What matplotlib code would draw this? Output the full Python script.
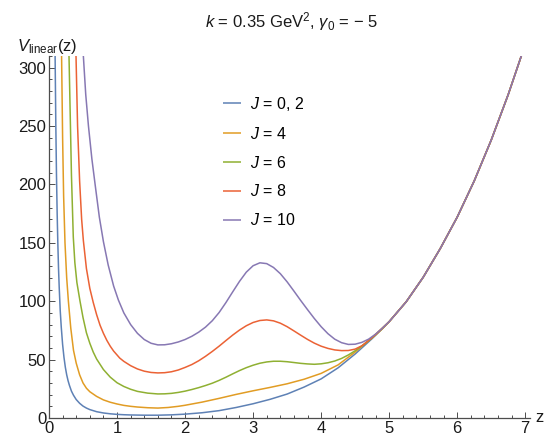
import matplotlib
matplotlib.use("Agg")
import matplotlib.pyplot as plt
from matplotlib.ticker import MultipleLocator

plt.rcParams['font.family'] = ['Liberation Sans', 'DejaVu Sans']
plt.rcParams['mathtext.fontset'] = 'custom'
plt.rcParams['mathtext.rm'] = 'Liberation Sans'
plt.rcParams['mathtext.it'] = 'Liberation Sans:italic'

labels = ["$J$ = 0, 2", "$J$ = 4", "$J$ = 6", "$J$ = 8", "$J$ = 10"]
colors = ["#5E81B5", "#E19C24", "#8FB032", "#EB6235", "#8778B3"]

# common right branch (all curves merge here)
z_tail = [5.25, 5.5, 5.75, 6.0, 6.25, 6.5, 6.75, 7.0]
v_tail = [99.5, 120.5, 145, 172, 203, 238, 277, 320]

z_j0 = [0.085, 0.09, 0.10, 0.11, 0.12, 0.13, 0.14, 0.15, 0.165, 0.18, 0.20, 0.22,
        0.24, 0.26, 0.28, 0.30, 0.33, 0.36, 0.40, 0.45, 0.50, 0.55, 0.60, 0.70,
        0.80, 0.90, 1.0, 1.1, 1.2, 1.4, 1.6, 1.8, 2.0, 2.25, 2.5, 2.75,
        3.0, 3.25, 3.5, 3.75, 4.0, 4.25, 4.5, 4.75, 5.0]
v_j0 = [345, 309, 252, 208, 175, 149, 128, 112, 92, 78, 63, 52,
        43.5, 37, 32, 28, 23, 19.5, 15.8, 12.6, 10.2, 8.5, 7.2, 5.4,
        4.3, 3.6, 3.1, 2.8, 2.6, 2.4, 2.4, 2.7, 3.3, 4.5, 6.3, 9.0,
        12.2, 16, 20.5, 26.5, 33.5, 43, 54.8, 68, 82.5]

z_j4 = [0.175, 0.185, 0.20, 0.215, 0.235, 0.26, 0.285, 0.32, 0.36, 0.40, 0.45, 0.50,
        0.55, 0.60, 0.70, 0.80, 0.90, 1.0, 1.1, 1.2, 1.3, 1.45, 1.6, 1.75,
        1.9, 2.0, 2.25, 2.5, 2.75, 3.0, 3.25, 3.5, 3.75, 4.0, 4.25, 4.5,
        4.75, 5.0]
v_j4 = [350, 310, 240, 190, 150, 120, 100, 77, 58, 47, 37, 30,
        25.5, 22.5, 18.5, 15.5, 13.5, 12, 10.8, 10, 9.4, 8.8, 8.5, 9.0,
        10.0, 10.9, 13.6, 16.8, 20.2, 23.3, 26.2, 29.3, 33.2, 38.2, 45.5, 56.5,
        69, 82.5]

z_j6 = [0.28, 0.294, 0.31, 0.33, 0.357, 0.38, 0.41, 0.456, 0.50, 0.55, 0.60, 0.65,
        0.70, 0.80, 0.90, 1.0, 1.1, 1.2, 1.3, 1.45, 1.6, 1.7, 1.8, 1.9,
        2.0, 2.1, 2.2, 2.3, 2.4, 2.5, 2.6, 2.7, 2.8, 2.9, 3.0, 3.1,
        3.2, 3.3, 3.4, 3.5, 3.6, 3.7, 3.8, 3.9, 4.0, 4.1, 4.2, 4.3,
        4.4, 4.5, 4.6, 4.7, 4.8, 4.9, 5.0]
v_j6 = [350, 310, 265, 208, 155, 133, 116, 100, 86, 73, 64, 56.5,
        50.5, 41.5, 35, 30.2, 27, 24.6, 22.8, 21.3, 20.6, 20.7, 21.1, 21.9,
        23.0, 24.4, 26.0, 27.8, 29.8, 32.2, 34.9, 37.8, 40.6, 43.1, 45.2, 46.9,
        48.0, 48.6, 48.6, 48.2, 47.5, 46.8, 46.3, 46.0, 46.4, 47.3, 48.8, 51.0,
        54.0, 57.6, 61.7, 66.2, 71.0, 76.4, 82.5]

z_j8 = [0.385, 0.397, 0.42, 0.45, 0.48, 0.505, 0.55, 0.60, 0.65, 0.70, 0.75, 0.80,
        0.85, 0.90, 0.95, 1.04, 1.1, 1.2, 1.3, 1.4, 1.5, 1.6, 1.7, 1.8,
        1.9, 2.0, 2.1, 2.2, 2.3, 2.4, 2.5, 2.6, 2.7, 2.8, 2.9, 3.0,
        3.1, 3.2, 3.3, 3.4, 3.5, 3.6, 3.7, 3.8, 3.9, 4.0, 4.1, 4.2,
        4.3, 4.4, 4.5, 4.6, 4.7, 4.8, 4.9, 5.0]
v_j8 = [350, 310, 250, 203, 170, 152, 128, 111, 99, 88.5, 79.5, 72.5,
        66.5, 61.5, 57.3, 51.3, 48.5, 44.8, 42.0, 40.1, 39.0, 38.6, 38.8, 39.6,
        41.1, 43.3, 45.8, 49.0, 52.8, 57.0, 61.5, 66.3, 71.0, 75.3, 79.0, 81.8,
        83.5, 84.0, 83.2, 81.2, 78.2, 74.6, 70.9, 67.3, 64.1, 61.5, 59.6, 58.3,
        57.7, 57.8, 59.0, 61.9, 66.5, 71.3, 76.7, 82.5]

z_j10 = [0.49, 0.505, 0.54, 0.58, 0.63, 0.68, 0.74, 0.80, 0.87, 0.95, 1.02, 1.1,
         1.2, 1.3, 1.4, 1.5, 1.6, 1.7, 1.8, 1.9, 2.0, 2.1, 2.2, 2.3,
         2.4, 2.5, 2.6, 2.7, 2.8, 2.9, 3.0, 3.1, 3.2, 3.3, 3.4, 3.5,
         3.6, 3.7, 3.8, 3.9, 4.0, 4.1, 4.2, 4.3, 4.4, 4.5, 4.6, 4.7,
         4.8, 4.9, 5.0]
v_j10 = [340, 310, 277, 250, 222, 199, 172, 151, 131, 113, 101, 90,
         80, 72.5, 67.2, 64, 62.6, 62.7, 63.6, 65.1, 67.2, 70.0, 73.5, 77.8,
         83.3, 90.3, 98.8, 108.0, 117.0, 124.9, 130.4, 132.9, 132.2, 128.9, 123.6, 116.6,
         108.7, 100.6, 92.8, 85.2, 78.2, 72.2, 67.5, 64.5, 63.0, 63.2, 64.8, 67.6,
         71.8, 77.0, 82.5]

zs = [z_j0, z_j4, z_j6, z_j8, z_j10]
vs = [v_j0, v_j4, v_j6, v_j8, v_j10]

W, H = 558, 438
fig = plt.figure(figsize=(W / 100, H / 100), dpi=100)
x0, x1, y0, y1 = 49, 530, 418, 56
ax = fig.add_axes([x0 / W, 1 - y0 / H, (x1 - x0) / W, (y0 - y1) / H])

for z, v, c, lab in zip(zs, vs, colors, labels):
    ax.plot(list(z) + z_tail, list(v) + v_tail, color=c, lw=1.1, label=lab,
            solid_joinstyle='round', solid_capstyle='butt')

ax.set_xlim(0, 7.07)
ax.set_ylim(0, 310)
for s in ['top', 'right']:
    ax.spines[s].set_visible(False)
axis_col = '#4d4d4d'
for s in ['left', 'bottom']:
    ax.spines[s].set_color(axis_col)
    ax.spines[s].set_linewidth(0.9)
ax.xaxis.set_major_locator(MultipleLocator(1))
ax.xaxis.set_minor_locator(MultipleLocator(0.2))
ax.yaxis.set_major_locator(MultipleLocator(50))
ax.yaxis.set_minor_locator(MultipleLocator(10))
ax.tick_params(which='both', direction='in', color=axis_col, labelsize=12,
               labelcolor='#1a1a1a', width=0.7)
ax.tick_params(which='major', length=4.5, pad=2)
ax.tick_params(which='minor', length=2.5)

fig.text(291 / W, 1 - 22 / H, r"$k$ = 0.35 GeV$^2$, $\gamma_0$ = $-$ 5",
         ha='center', va='center', fontsize=12, color='#1a1a1a')
fig.text(17 / W, 1 - 46 / H, r"$V_{\mathrm{linear}}$(z)", ha='left', va='center',
         fontsize=12, color='#1a1a1a')
fig.text(535 / W, 1 - 418 / H, "z", ha='left', va='center', fontsize=12,
         color='#1a1a1a')

ax.legend(loc='upper left', bbox_to_anchor=((223 - x0) / (x1 - x0), (y0 - 95) / (y0 - y1)),
          frameon=False, fontsize=11.5, handlelength=1.15, handletextpad=0.55,
          labelspacing=0.8, borderpad=0, borderaxespad=0)

fig.savefig("out.png", dpi=100)
